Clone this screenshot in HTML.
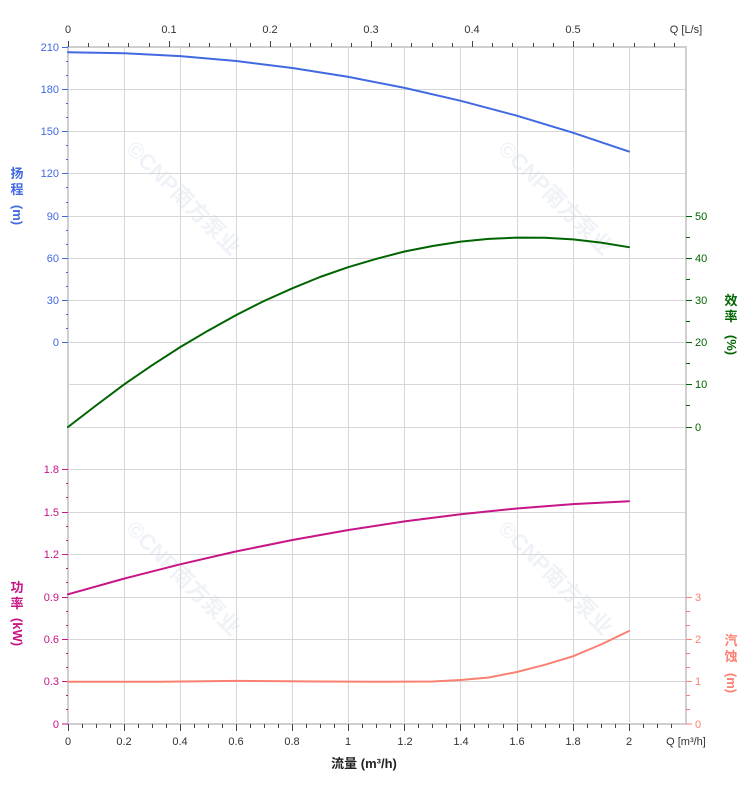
<!DOCTYPE html>
<html><head><meta charset="utf-8"><style>
html,body{margin:0;padding:0;background:#fff;}
svg{display:block;font-family:"Liberation Sans","Noto Sans CJK SC",sans-serif;}
</style></head><body>
<svg width="752" height="797" viewBox="0 0 752 797" xmlns="http://www.w3.org/2000/svg">
<g fill="#eff3f8" font-size="22" font-weight="bold">
<text transform="translate(125,150) rotate(45)">©CNP南方泵业</text>
<text transform="translate(497,150) rotate(45)">©CNP南方泵业</text>
<text transform="translate(125,530) rotate(45)">©CNP南方泵业</text>
<text transform="translate(497,530) rotate(45)">©CNP南方泵业</text>
</g>
<g stroke="#d6d6d6" stroke-width="1">
<path d="M124.5 47V724M180.5 47V724M236.5 47V724M292.5 47V724M348.5 47V724M404.5 47V724M460.5 47V724M517.5 47V724M573.5 47V724M629.5 47V724"/>
<path d="M68 89.5H686M68 131.5H686M68 173.5H686M68 216.5H686M68 258.5H686M68 300.5H686M68 342.5H686M68 384.5H686M68 427.5H686M68 469.5H686M68 512.5H686M68 554.5H686M68 597.5H686M68 639.5H686M68 681.5H686"/>
</g>
<g stroke="#cfcfcf" stroke-width="2" fill="none">
<path d="M68 46V725"/><path d="M686 46V725"/><path d="M67 47H687"/><path d="M67 724H687"/>
</g>
<g stroke="#444" stroke-width="1">
<path d="M68.5 41V47M169.5 41V47M270.5 41V47M371.5 41V47M472.5 41V47M573.5 41V47"/>
<path d="M88.5 43V47M108.5 43V47M128.5 43V47M149.5 43V47M189.5 43V47M209.5 43V47M230.5 43V47M250.5 43V47M290.5 43V47M310.5 43V47M331.5 43V47M351.5 43V47M391.5 43V47M411.5 43V47M432.5 43V47M452.5 43V47M492.5 43V47M512.5 43V47M533.5 43V47M553.5 43V47M593.5 43V47M613.5 43V47M634.5 43V47M654.5 43V47M674.5 43V47"/>
</g>
<g font-size="11" fill="#333" text-anchor="middle">
<text x="68" y="33">0</text><text x="169" y="33">0.1</text><text x="270" y="33">0.2</text><text x="371" y="33">0.3</text><text x="472" y="33">0.4</text><text x="573" y="33">0.5</text>
<text x="686" y="33" text-anchor="middle">Q [L/s]</text>
</g>
<g stroke="#444" stroke-width="1">
<path d="M68.5 724V731M124.5 724V731M180.5 724V731M236.5 724V731M292.5 724V731M348.5 724V731M404.5 724V731M460.5 724V731M517.5 724V731M573.5 724V731M629.5 724V731"/>
<path d="M82.5 724V728M96.5 724V728M110.5 724V728M138.5 724V728M152.5 724V728M166.5 724V728M194.5 724V728M208.5 724V728M222.5 724V728M250.5 724V728M264.5 724V728M278.5 724V728M306.5 724V728M320.5 724V728M334.5 724V728M362.5 724V728M376.5 724V728M390.5 724V728M418.5 724V728M432.5 724V728M446.5 724V728M474.5 724V728M488.5 724V728M503.5 724V728M531.5 724V728M545.5 724V728M559.5 724V728M587.5 724V728M601.5 724V728M615.5 724V728M643.5 724V728M657.5 724V728M671.5 724V728"/>
</g>
<g font-size="11" fill="#333" text-anchor="middle">
<text x="68" y="745">0</text><text x="124" y="745">0.2</text><text x="180" y="745">0.4</text><text x="236" y="745">0.6</text><text x="292" y="745">0.8</text><text x="348" y="745">1</text><text x="405" y="745">1.2</text><text x="461" y="745">1.4</text><text x="517" y="745">1.6</text><text x="573" y="745">1.8</text><text x="629" y="745">2</text>
<text x="686" y="745">Q [m³/h]</text>
</g>
<text x="364" y="768" font-size="13" font-weight="bold" fill="#222" text-anchor="middle">流量 (m³/h)</text>
<g stroke="#4169e1" stroke-width="1">
<path d="M62 47.5H68M62 89.5H68M62 131.5H68M62 173.5H68M62 216.5H68M62 258.5H68M62 300.5H68M62 342.5H68"/>
<path d="M66 61.5H68M66 75.5H68M66 103.5H68M66 117.5H68M66 145.5H68M66 159.5H68M66 187.5H68M66 202.5H68M66 230.5H68M66 244.5H68M66 272.5H68M66 286.5H68M66 314.5H68M66 328.5H68"/>
</g>
<g font-size="11" fill="#4169e1" text-anchor="end">
<text x="59" y="51">210</text><text x="59" y="93">180</text><text x="59" y="135">150</text><text x="59" y="177">120</text><text x="59" y="220">90</text><text x="59" y="262">60</text><text x="59" y="304">30</text><text x="59" y="346">0</text>
</g>
<g fill="#4169e1" font-size="13" font-weight="bold" text-anchor="middle">
<text x="17" y="178">扬</text><text x="17" y="194">程</text>
<text transform="translate(13,215) rotate(90)" text-anchor="middle">(m)</text>
</g>
<g stroke="#c71585" stroke-width="1">
<path d="M62 469.5H68M62 512.5H68M62 554.5H68M62 597.5H68M62 639.5H68M62 681.5H68M62 724H68"/>
<path d="M66 483.5H68M66 497.5H68M66 526.5H68M66 540.5H68M66 568.5H68M66 582.5H68M66 611.5H68M66 625.5H68M66 653.5H68M66 667.5H68M66 695.5H68M66 709.5H68"/>
</g>
<g font-size="11" fill="#c71585" text-anchor="end">
<text x="59" y="473">1.8</text><text x="59" y="516">1.5</text><text x="59" y="558">1.2</text><text x="59" y="601">0.9</text><text x="59" y="643">0.6</text><text x="59" y="685">0.3</text><text x="59" y="728">0</text>
</g>
<g fill="#c71585" font-size="13" font-weight="bold" text-anchor="middle">
<text x="17" y="592">功</text><text x="17" y="608">率</text>
<text transform="translate(13,632) rotate(90)" text-anchor="middle">(kW)</text>
</g>
<g stroke="#006400" stroke-width="1">
<path d="M686 216.5H692M686 258.5H692M686 300.5H692M686 342.5H692M686 384.5H692M686 427.5H692"/>
<path d="M686 237.5H690M686 279.5H690M686 321.5H690M686 363.5H690M686 405.5H690"/>
</g>
<g font-size="11" fill="#006400">
<text x="695" y="220">50</text><text x="695" y="262">40</text><text x="695" y="304">30</text><text x="695" y="346">20</text><text x="695" y="388">10</text><text x="695" y="431">0</text>
</g>
<g fill="#006400" font-size="13" font-weight="bold" text-anchor="middle">
<text x="731" y="305">效</text><text x="731" y="321">率</text>
<text transform="translate(727,345) rotate(90)" text-anchor="middle">(%)</text>
</g>
<g stroke="#fa8072" stroke-width="1">
<path d="M686 597.5H692M686 639.5H692M686 681.5H692M686 724H692"/>
<path d="M686 611.5H690M686 625.5H690M686 653.5H690M686 667.5H690M686 695.5H690M686 709.5H690"/>
</g>
<g font-size="11" fill="#fa8072">
<text x="695" y="601">3</text><text x="695" y="643">2</text><text x="695" y="685">1</text><text x="695" y="728">0</text>
</g>
<g fill="#fa8072" font-size="13" font-weight="bold" text-anchor="middle">
<text x="731" y="645">汽</text><text x="731" y="661">蚀</text>
<text transform="translate(727,683) rotate(90)" text-anchor="middle">(m)</text>
</g>
<g fill="none" stroke-width="2" stroke-linejoin="round" stroke-linecap="round">
<polyline stroke="#4169e1" points="68,52.2 124.1,53.2 180.2,56.1 236.3,61 292.4,68 348.5,76.9 404.6,87.9 460.7,100.8 516.8,115.7 572.9,132.7 629,151.6"/>
<polyline stroke="#006400" points="68,427 96,405.5 124.1,384.4 152,365.3 180.2,347.1 208,330.7 236.3,315 264,301 292.4,288.3 320,277 348.5,267.1 376.5,258.8 404.6,251.5 432.6,246 460.7,241.6 488.7,238.9 516.8,237.6 544.8,237.8 572.9,239.4 601,242.6 629,247.2"/>
<polyline stroke="#c71585" points="68,594.3 124.1,578.6 180.2,564.3 236.3,551.4 292.4,540 348.5,530 404.6,521.4 460.7,514.2 516.8,508.5 572.9,504.1 629,501.2"/>
<polyline stroke="#fa8072" points="68,681.7 160,681.7 236,680.9 320,681.5 380,681.7 432.6,681.5 460.7,680 488.7,677.5 516.8,672 544.8,664.8 572.9,656.3 601,644.5 629,631"/>
</g>
</svg>
</body></html>
